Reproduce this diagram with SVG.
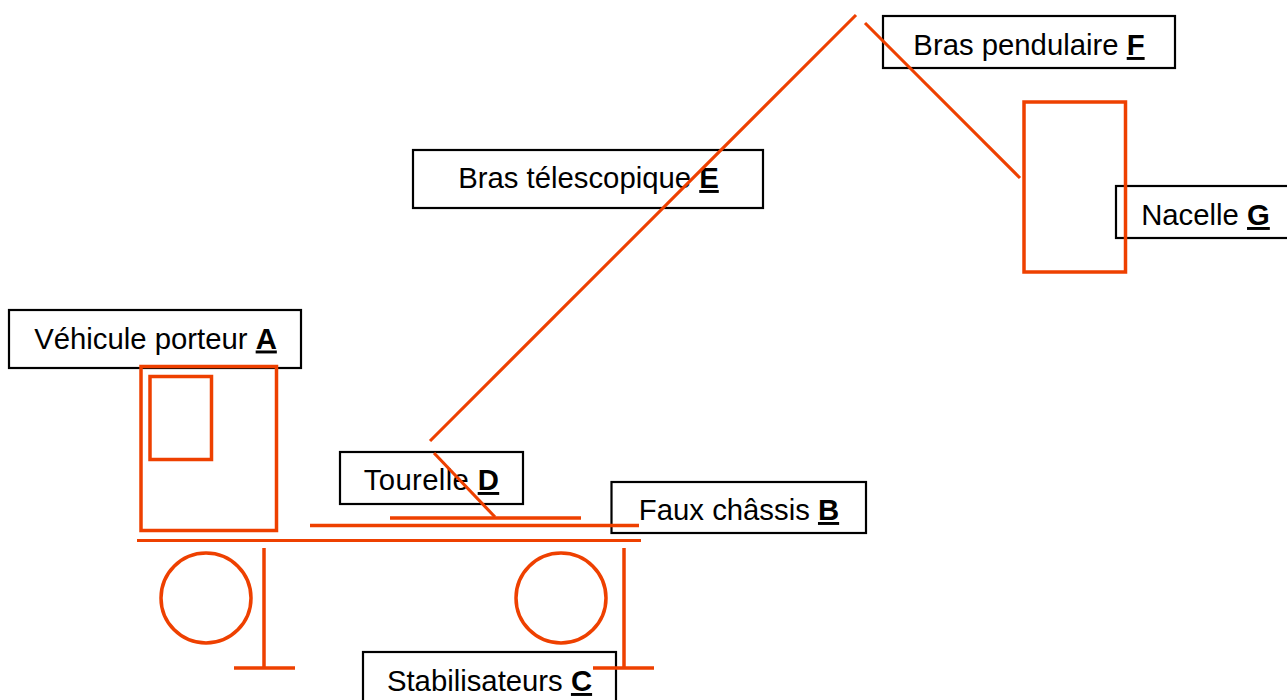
<svg xmlns="http://www.w3.org/2000/svg" width="1287" height="700" viewBox="0 0 1287 700">
<style>
.lbl{fill:none;stroke:#000;stroke-width:2.200}
.t{font-family:"Liberation Sans",Arial,sans-serif;font-size:29.300px;fill:#000;text-anchor:middle}
.k{font-weight:bold;text-decoration:underline}
.o{fill:none;stroke:#ee4000;stroke-width:3.500}
.l{fill:none;stroke:#ee4000;stroke-width:3.500}
.d{fill:none;stroke:#ee4000;stroke-width:3.100}
</style>
<rect width="1287" height="700" fill="#fff"/>
<g id="node-A"><rect class="lbl" x="9" y="310" width="292" height="58"/><text class="t" x="155.500" y="348.500">Véhicule porteur <tspan class="k">A</tspan></text></g>
<g id="node-E"><rect class="lbl" x="413" y="150" width="350" height="58"/><text class="t" x="588.500" y="188">Bras télescopique <tspan class="k">E</tspan></text></g>
<g id="node-F"><rect class="lbl" x="883" y="16" width="292" height="52"/><text class="t" x="1029" y="55">Bras pendulaire <tspan class="k">F</tspan></text></g>
<g id="node-G"><rect class="lbl" x="1116" y="186" width="173" height="52"/><text class="t" x="1205.500" y="225">Nacelle <tspan class="k">G</tspan></text></g>
<g id="node-D"><rect class="lbl" x="340" y="452" width="183" height="52"/><text class="t" x="431.500" y="490" style="letter-spacing:.35px">Tourelle <tspan class="k">D</tspan></text></g>
<g id="node-B"><rect class="lbl" x="611.500" y="482" width="254.500" height="51"/><text class="t" x="739" y="520">Faux châssis <tspan class="k">B</tspan></text></g>
<g id="node-C"><rect class="lbl" x="363" y="652" width="253" height="52"/><text class="t" x="489.500" y="691">Stabilisateurs <tspan class="k">C</tspan></text></g>
<g id="truck">
<rect class="o" x="141" y="366.500" width="135.500" height="164"/>
<rect class="o" x="150" y="376.500" width="61.500" height="83"/>
<circle class="o" cx="206" cy="598" r="45"/>
<circle class="o" cx="561" cy="598" r="45"/>
<rect class="o" x="1024" y="102" width="101.500" height="170"/>
</g>
<g id="connectors">
<path class="l" style="stroke-width:3" d="M137 540.500H641"/>
<path class="l" d="M310 525.500H639"/>
<path class="l" d="M390 518H581"/>
<path class="l" d="M264 548V668M234 668H295"/>
<path class="l" d="M624 548V668M593 668H654"/>
<path class="d" d="M430 441L856 15"/>
<path class="d" d="M434 453L495 517"/>
<path class="d" d="M865 23L1020 178"/>
</g>
</svg>
